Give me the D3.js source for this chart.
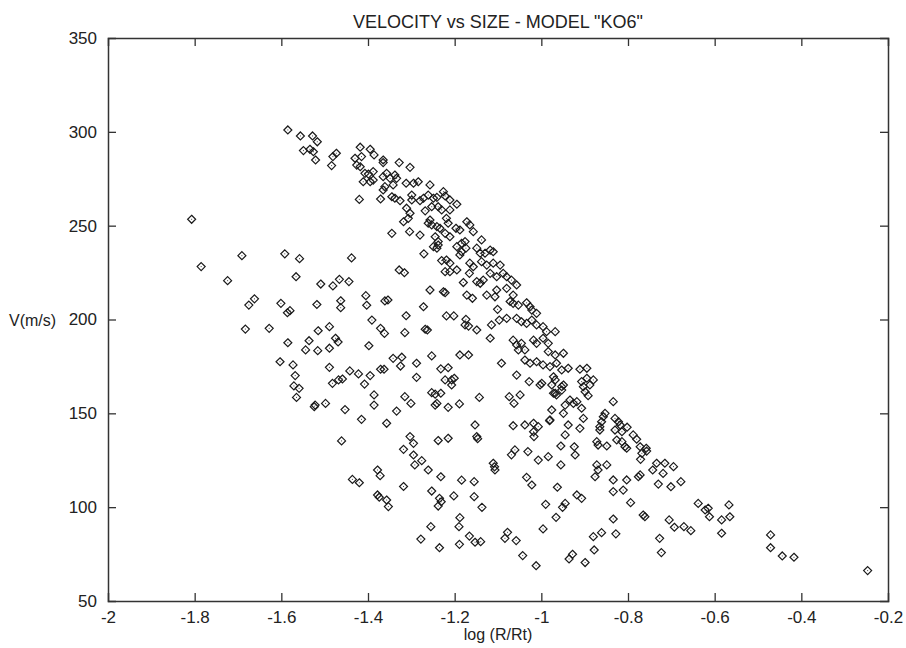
<!DOCTYPE html>
<html>
<head>
<meta charset="utf-8">
<script src="https://cdn.jsdelivr.net/npm/d3@7"></script>
<style>
  html, body { margin: 0; padding: 0; background: #fff; }
  text { font-family: "Liberation Sans", Arial, Helvetica, sans-serif; fill: #222; }
</style>
</head>
<body>
<svg id="chart" width="906" height="648"></svg>
<script>
const titleText = 'VELOCITY vs SIZE - MODEL "KO6"';
const xLabel = "log (R/Rt)";
const yLabel = "V(m/s)";
const xTicks = [-2, -1.8, -1.6, -1.4, -1.2, -1, -0.8, -0.6, -0.4, -0.2];
const yTicks = [50, 100, 150, 200, 250, 300, 350];

const logR = [
-1.585,-1.556,-1.528,-1.517,-1.549,-1.534,-1.526,-1.521,-1.484,-1.481,-1.473,-1.418,-1.395,-1.430,-1.386,-1.365,-1.418,-1.420,-1.371,-1.807,-1.691,-1.785,-1.724,-1.592,-1.558,-1.438,-1.566,-1.509,-1.481,-1.466,-1.444,-1.675,-1.662,-1.601,-1.586,-1.580,-1.518,-1.463,-1.463,-1.405,-1.403,-1.361,-1.354,-1.683,-1.628,-1.515,-1.489,-1.475,-1.391,-1.371,-1.362,
-1.585,-1.536,-1.544,-1.516,-1.489,-1.469,-1.398,-1.603,-1.573,-1.568,-1.571,-1.559,-1.565,-1.489,-1.482,-1.468,-1.459,-1.442,-1.422,-1.395,-1.408,-1.371,-1.363,-1.386,-1.386,-1.524,-1.522,-1.498,-1.453,-1.415,-1.357,-1.461,-1.378,-1.372,-1.436,-1.420,-1.378,-1.374,-1.357,-1.353,
-1.415,-1.365,-1.328,-1.303,-1.426,-1.407,-1.399,-1.388,-1.411,-1.395,-1.388,-1.365,-1.357,-1.349,-1.338,-1.334,-1.365,-1.361,-1.342,-1.312,-1.295,-1.284,-1.257,-1.345,-1.338,-1.326,-1.299,-1.299,-1.280,-1.272,-1.261,-1.249,-1.241,-1.226,-1.222,-1.211,-1.195,-1.253,-1.238,-1.230,-1.211,-1.311,-1.303,-1.307,-1.318,-1.268,-1.257,-1.261,-1.253,-1.241,-1.234,-1.219,-1.215,-1.197,-1.188,-1.172,-1.165,-1.157,-1.345,-1.304,-1.280,-1.245,-1.238,-1.222,-1.211,-1.249,-1.241,-1.238,-1.195,-1.184,-1.176,-1.174,-1.271,-1.230,-1.219,-1.211,-1.188,-1.184,-1.149,-1.138,-1.141,-1.130,-1.118,-1.111,-1.165,-1.157,-1.138,-1.126,-1.111,-1.095,-1.222,-1.211,-1.195,-1.166,-1.149,-1.141,-1.134,-1.118,-1.103,-1.088,-1.080,-1.069,-1.057,-1.180,-1.328,-1.316,-1.257,-1.226,-1.222,-1.172,-1.159,-1.126,-1.107,-1.103,-1.080,-1.065,-1.072,-1.065,-1.053,-1.034,-1.026,-1.272,
-1.312,-1.219,-1.202,-1.174,-1.176,-1.168,-1.149,-1.315,-1.268,-1.263,-1.101,-1.115,-1.097,-1.080,-1.118,-1.022,-1.011,-1.057,-1.046,-1.034,-1.022,-1.011,-0.996,-0.988,-0.968,-1.065,-1.057,-1.046,-1.053,-1.038,-1.018,-1.011,-0.996,-0.984,-0.984,-0.968,-0.949,-1.092,-1.057,-1.038,-1.026,-1.011,-0.996,-0.980,-0.965,-0.953,-0.938,-0.972,-0.968,-0.953,-1.028,-0.999,-0.972,-0.965,-0.934,-0.918,-0.945,-0.949,-0.976,-0.980,-0.938,-0.945,-0.924,-0.922,-0.955,-0.955,-1.074,-1.049,-1.063,-1.143,-1.188,-1.168,-1.253,-1.342,-1.322,-1.325,-1.288,-1.288,-1.232,-1.215,-1.222,-1.207,-1.201,-1.207,-1.253,-1.245,-1.232,-1.245,-1.241,-1.215,-1.189,-1.315,-1.301,-1.334,-1.153,-1.149,-1.147,-1.065,-1.038,-1.018,-1.007,-1.018,-1.017,-1.069,-1.061,-1.031,-1.007,-0.984,-1.111,-1.108,-1.107,-1.303,-1.295,-1.318,-1.238,-1.215,-1.295,-1.292,-1.276,-1.261,-1.232,-1.184,-1.155,-1.034,-1.022,-0.963,-0.918,-1.318,
-0.981,-1.253,-1.235,-1.231,-1.238,-1.202,-1.155,-1.137,-1.188,-1.255,-1.190,-1.278,-1.235,-1.189,-1.166,-1.153,-1.140,-1.078,-1.084,-1.058,-1.043,-1.012,-0.990,-0.966,-0.996,-0.951,-0.945,-0.928,-0.936,
-0.911,-0.895,-0.880,-0.895,-0.907,-0.888,-0.903,-0.899,-0.892,-0.976,-0.949,-0.953,-0.968,-1.003,-0.926,-0.907,-0.834,-0.853,-0.857,-0.861,-0.865,-0.830,-0.822,-0.818,-0.802,-0.903,-0.911,
-0.865,-0.830,-0.814,-0.826,-0.814,-0.807,-0.803,-0.788,-0.780,-0.872,-0.869,-0.849,-0.872,-0.869,-0.849,-0.876,-0.772,-0.758,-0.757,-0.768,-0.771,-0.734,-0.715,-0.695,-0.743,-0.719,-0.834,-0.803,-0.811,-0.834,-0.772,-0.776,-0.730,-0.701,-0.678,-0.907,-0.794,-0.765,-0.761,-0.834,-0.880,-0.861,-0.828,-0.878,-0.899,-0.727,-0.723,-0.705,-0.693,-0.671,-0.655,-0.638,-0.622,-0.615,-0.612,-0.584,-0.565,-0.567,-0.584,
-0.471,-0.471,-0.444,-0.417,-0.247
];

const vel = [
301,297.8,297.8,294.7,290,290.7,289.4,285,282,286.8,288.6,291.8,290.7,285.9,287.7,285,281.4,264,264.2,253.4,234,228.2,220.7,235,232.4,232.8,222.8,218.9,217.9,221.4,220.2,207.7,211,208.6,203.6,204.7,208,210,206.3,212.7,207.6,209.9,210.4,194.9,195.3,194,196.2,190,199.7,195.3,192.6,
187.6,188.7,183.8,183.4,184.7,188,186,177.5,175.8,170.1,164.6,163.3,158.5,174.5,166,167.8,168.3,172.6,171,170.1,165.6,173.5,173.5,159.8,154.4,153.5,154.4,155.3,152,146.8,144.7,135.3,119.8,116.8,114.8,113,106.5,105.3,103.8,100.3,
286.8,283.6,283.6,281.1,282.3,277.9,277.5,278.8,273.4,273.4,274.3,276.1,277.9,275.2,277,275.2,269,270.8,271.7,272.6,272.6,273.4,271.7,265.4,264.6,263.3,266.3,263.7,263.3,264.6,266.3,264.6,265.1,268.1,265.8,263.7,261.4,260.1,260.1,258.4,258.4,259.3,256.6,253.9,252.1,257.9,253,251.3,250.4,249.5,248.6,253.9,251.3,248.6,247.7,252.1,250.4,246.8,245.9,246.8,245,244.1,241.5,245.9,244.1,238.8,238,239.7,238.8,240.6,241.5,238,235,231.4,231.7,230,234.4,236.1,238,242.4,235.3,235.3,237,236.1,230,228.1,230.8,229,230,229,225.5,225.5,226.4,224.6,220.2,219.3,221,224.6,222.8,224.6,222.8,221,218.4,219.7,226.4,224.9,215.7,214.8,214.3,213,211.3,213,212.1,215.7,216.6,213,209.6,208.6,207.7,208.9,206.8,206.8,
202,201.9,201.9,200.1,197.1,196.5,194.4,193,194.8,194.4,205.4,197.1,199.7,200.6,190,205,203.3,200.6,198.8,197.9,199.7,197.1,196.2,193.5,193.5,189,186.4,187.3,183.8,183.8,189,187.3,190,187.3,182.9,181.1,182,176.7,170.4,178.4,176.7,177.5,175.8,174.9,176.7,173.1,174,169.5,167.8,164.2,166.9,166,160.7,159.8,157.1,156.2,154.4,150,151.8,146.5,143.8,138.5,132.2,127.8,132.6,122.5,158.9,159.8,155.3,158.5,181.1,181.1,180.6,179.3,179.9,175.2,176.7,169.2,173.7,174.3,167.8,167.8,168.7,165.1,161,160.2,160.7,154.4,155.3,153.2,155,158.9,155.3,151.2,143.8,137.6,136.5,143.4,143.8,144.7,142.9,140.2,137.6,127.9,130.5,129.6,125.1,126.9,123.4,121.5,119.8,137.6,134,130.8,135.5,136.7,127.8,122.5,124.8,119.8,116.2,114.4,113.6,115.9,111.8,110.6,106.5,111,
146.1,108.6,104.7,102.9,100.6,106,105.6,99.9,94.4,89.6,89.6,83,78.4,80.2,84.6,81.3,81.6,86.6,83.4,82.2,74.2,68.8,101.5,94.6,88.4,99.9,102,74.9,72.4,
173.5,174,167.8,168.7,166.9,165.1,164.2,161.5,159.4,165.1,165.1,162.4,160.7,165.1,155.3,152.7,156.2,150,148.2,145.5,142.9,147.3,145.5,143.8,142.6,147.3,142,
141.1,141.1,140.2,135.8,134.9,132.2,131.4,138.5,136.2,134.9,133.1,132.6,122.5,119.8,122.5,116.2,132.2,131.4,129.9,128.7,125.5,123.4,123.4,121.6,119.8,118,114.5,114.5,109.1,108.3,117.2,116.2,112.3,110.9,113.6,104.7,102.4,95.8,94.9,93.7,84.3,86.4,85.8,77.2,70.5,83.4,75.8,93.2,89.3,89.6,87.5,102,98.5,99.4,94.9,93.2,94.9,101.2,86.1,
85.2,78.4,74,73.3,66.2
];

const W = 906, H = 648;
const mLeft = 108, mRight = 888, mTop = 38, mBottom = 601;
const svg = d3.select("#chart");
svg.append("rect").attr("width", W).attr("height", H).attr("fill", "#fff");

const x = d3.scaleLinear().domain([-2, -0.2]).range([mLeft, mRight]);
const y = d3.scaleLinear().domain([50, 350]).range([mBottom, mTop]);

const fmtX = d => String(+d.toFixed(1));

const axisColor = "#333";
const tickLen = 8;

const gB = svg.append("g").attr("transform", `translate(0,${mBottom})`)
  .call(d3.axisBottom(x).tickValues(xTicks).tickSize(-tickLen).tickPadding(13).tickFormat(fmtX));
const gT = svg.append("g").attr("transform", `translate(0,${mTop})`)
  .call(d3.axisTop(x).tickValues(xTicks).tickSize(-tickLen).tickFormat(""));
const gL = svg.append("g").attr("transform", `translate(${mLeft},0)`)
  .call(d3.axisLeft(y).tickValues(yTicks).tickSize(-tickLen).tickPadding(11).tickFormat(d3.format("d")));
const gR = svg.append("g").attr("transform", `translate(${mRight},0)`)
  .call(d3.axisRight(y).tickValues(yTicks).tickSize(-tickLen).tickFormat(""));

[gB, gT, gL, gR].forEach(g => {
  g.select(".domain").attr("stroke", axisColor).attr("stroke-width", 1.5);
  g.selectAll(".tick line").attr("stroke", axisColor).attr("stroke-width", 1.3);
  g.selectAll(".tick text").attr("fill", "#222").style("font-size", "17px")
    .style("font-family", '"Liberation Sans", Arial, sans-serif');
});
gB.selectAll(".tick").filter(d => d === -2 || d === -0.2).select("line").remove();
gT.selectAll(".tick").filter(d => d === -2 || d === -0.2).select("line").remove();
gL.selectAll(".tick").filter(d => d === 50 || d === 350).select("line").remove();
gR.selectAll(".tick").filter(d => d === 50 || d === 350).select("line").remove();
gB.selectAll(".tick text").attr("dy", "0.5em");

svg.append("text").attr("x", (mLeft + mRight) / 2).attr("y", 28)
  .attr("text-anchor", "middle").style("font-size", "18px").text(titleText);
svg.append("text").attr("x", (mLeft + mRight) / 2).attr("y", 640)
  .attr("text-anchor", "middle").style("font-size", "16px").text(xLabel);
svg.append("text").attr("x", 9).attr("y", 326)
  .attr("text-anchor", "start").style("font-size", "16px").text(yLabel);

const pts = logR.map((d, i) => ({ x: d, v: vel[i] }));
const g = svg.append("g");
const r = 4;
const mk = g.selectAll("g.pt").data(pts).enter().append("g")
  .attr("class", "pt")
  .attr("transform", d => `translate(${x(d.x)},${y(d.v)})`);
mk.append("path")
  .attr("d", `M0,${-r}L${r},0L0,${r}L${-r},0Z`)
  .attr("fill", "none").attr("stroke", "#1a1a1a").attr("stroke-width", 1.2);
mk.append("rect").attr("x", -0.5).attr("y", -0.5).attr("width", 1).attr("height", 1).attr("fill", "#444");
</script>
</body>
</html>
